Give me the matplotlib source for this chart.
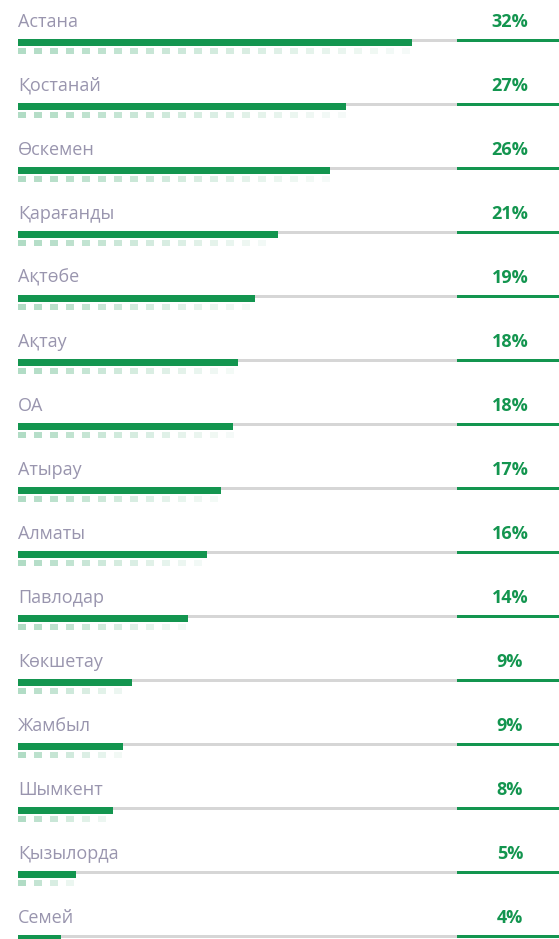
import numpy as np
import matplotlib.pyplot as plt

# data
cities = ["Астана", "Қостанай", "Өскемен", "Қарағанды", "Ақтөбе", "Ақтау", "ОА",
          "Атырау", "Алматы", "Павлодар", "Көкшетау", "Жамбыл", "Шымкент",
          "Қызылорда", "Семей"]
values = [32.0, 26.7, 25.4, 21.1, 19.3, 17.9, 17.5, 16.5, 15.4, 13.8, 9.3, 8.5, 7.7, 4.7, 3.5]
labels = ["32%", "27%", "26%", "21%", "19%", "18%", "18%", "17%", "16%", "14%",
          "9%", "9%", "8%", "5%", "4%"]

GREEN = "#13954f"
GREY = "#d6d6d6"
TEXT = "#9995ae"
FONT = ["Open Sans", "DejaVu Sans"]

px = 12.3    # pixels per percent
row = 64.0   # pixels per row

fig = plt.figure(figsize=(5.59, 9.39), dpi=100)
ax = fig.add_axes([0, 0, 1, 1])
ax.set_xlim(-18 / px, (559 - 18) / px)
ax.set_ylim((939 - 39) / row, -39 / row)
ax.axis("off")

split = (457 - 18) / px
right = (559 - 18) / px
y = np.arange(len(cities))

# background track and right accent
ax.barh(y, split, height=2.6 / row, left=0, align="edge", color=GREY)
ax.barh(y, right - split, height=2.6 / row, left=split, align="edge", color=GREEN)
# main bars
ax.barh(y, values, height=7.2 / row, align="edge", color=GREEN)

# fading dashes under each bar
step = 16 / px
dash = 7.5 / px
for i, v in enumerate(values):
    starts = np.arange(0, v - dash * 0.5, step)
    for s in starts:
        a = 0.30 * (1 - s / v) + 0.03
        ax.barh(i + 9.3 / row, dash, height=6 / row, left=s, align="edge",
                color=GREEN, alpha=a, linewidth=0)

for i, (c, l) in enumerate(zip(cities, labels)):
    ax.text(0, i - 12 / row, c, ha="left", va="baseline", fontsize=13,
            color=TEXT, family=FONT)
    ax.text((510 - 18) / px, i - 12 / row, l, ha="center", va="baseline",
            fontsize=13, color=GREEN, fontweight="bold", family=FONT)

fig.savefig("out.png", dpi=100)
